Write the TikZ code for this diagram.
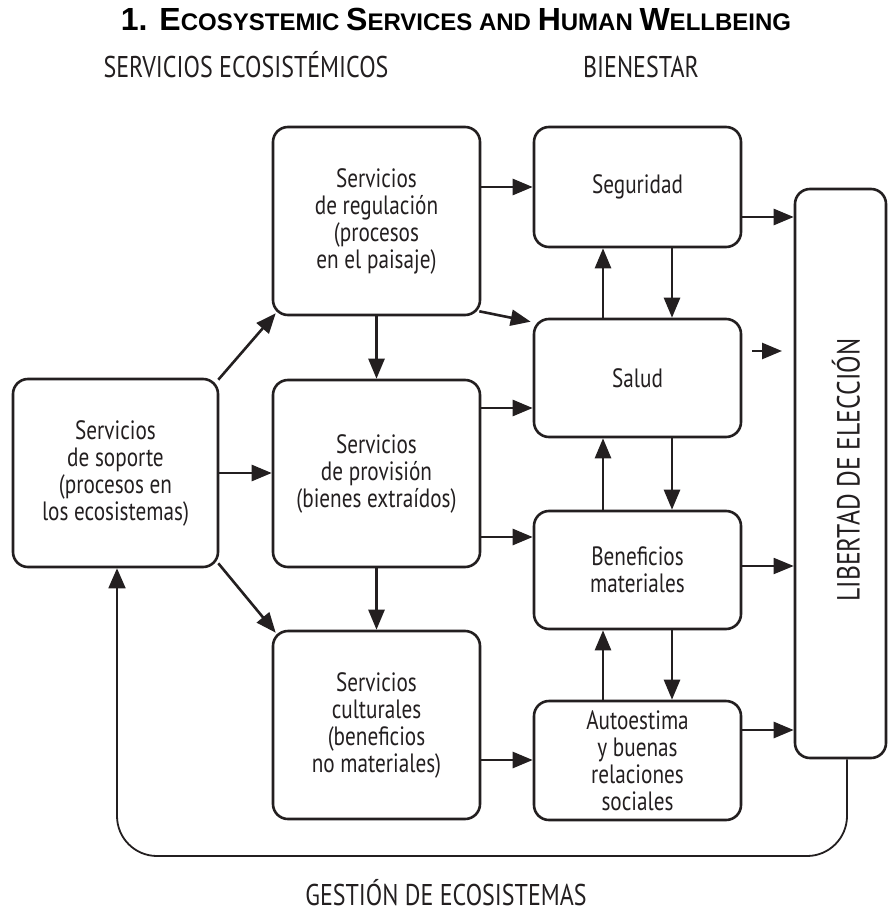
\documentclass[tikz,border=0pt]{standalone}
\usepackage{fontspec}
\usetikzlibrary{arrows.meta}
\newfontfamily\condf[FakeStretch=0.8]{PT Sans}
\newfontfamily\titlef{Liberation Sans}
\newcommand\tbig{\fontsize{32}{36}\selectfont}
\newcommand\tsml{\fontsize{24}{36}\selectfont}
\definecolor{ink}{HTML}{231F20}
\tikzset{
  box/.style={draw=ink, line width=2.6pt, rounded corners=15pt, align=center,
    text=ink, font=\condf\fontsize{26.5}{27}\selectfont, inner sep=0pt},
  arr/.style={draw=ink, line width=2.6pt, -{Triangle[length=20pt,width=16pt]}},
  thinarr/.style={draw=ink, line width=1.8pt, -{Triangle[length=20pt,width=16pt]}},
  fbarr/.style={draw=ink, line width=1.8pt, rounded corners=40pt, -{Triangle[length=20pt,width=17pt]}},
  head/.style={text=ink, font=\condf\fontsize{30}{32}\selectfont, inner sep=0pt},
}
\begin{document}
\begin{tikzpicture}[x=1pt,y=-1pt]
\useasboundingbox[fill=white] (0,0) rectangle (888,917);

% title and headers
\node[anchor=base, inner sep=0pt, font=\titlef\bfseries] (title) at (456,31)
  {\tbig 1. E\tsml COSYSTEMIC \tbig S\tsml ERVICES AND \tbig H\tsml UMAN \tbig W\tsml ELLBEING};
\node[head, anchor=base] (hse) at (246,78) {SERVICIOS ECOSISTÉMICOS};
\node[head, anchor=base] (hbi) at (641,78) {BIENESTAR};
\node[head, anchor=base] (hge) at (446,905) {GESTIÓN DE ECOSISTEMAS};

% boxes
\node[box, minimum width=205pt, minimum height=188pt] (sop) at (115.5,473)
  {Servicios\\de soporte\\(procesos en\\los ecosistemas)};
\node[box, minimum width=207pt, minimum height=188pt] (reg) at (376.5,221)
  {Servicios\\de regulación\\(procesos\\en el paisaje)};
\node[box, minimum width=207pt, minimum height=187pt] (prov) at (376.5,473.5)
  {Servicios\\de provisión\\(bienes extraídos)};
\node[box, minimum width=207pt, minimum height=188pt] (cult) at (376.5,725)
  {Servicios\\culturales\\(beneficios\\no materiales)};
\node[box, minimum width=207pt, minimum height=120pt] (seg) at (637.5,187) {Seguridad};
\node[box, minimum width=207pt, minimum height=118pt] (sal) at (637.5,378) {Salud};
\node[box, minimum width=207pt, minimum height=118pt] (ben) at (637.5,570) {Beneficios\\materiales};
\node[box, minimum width=207pt, minimum height=119pt] (aut) at (637.5,760.5)
  {Autoestima\\y buenas\\relaciones\\sociales};
\node[box, minimum width=91pt, minimum height=569pt] (lib) at (840.5,473.5) {};
\node[head, rotate=90, font=\condf\fontsize{32}{34}\selectfont] (libt) at (846,470) {LIBERTAD DE ELECCIÓN};

% ecosystem services arrows
\draw[arr] ([shift={(-1,2)}]sop.north east) -- ([shift={(4,-3)}]reg.south west);
\draw[arr] (sop.east) -- (sop.east -| prov.west);
\draw[arr] ([shift={(-1,-5)}]sop.south east) -- ([shift={(4,3)}]cult.north west);
\draw[arr] (reg.south) -- (prov.north);
\draw[arr] (prov.south) -- (cult.north);

% services to wellbeing
\draw[arr] (reg.east |- seg.west) -- (seg.west);
\draw[arr] ([shift={(-2,-5)}]reg.south east) -- ([shift={(-2,4)}]sal.north west);
\draw[arr] (prov.east |- 0,408) -- (sal.west |- 0,408);
\draw[arr] (prov.east |- 0,537) -- (ben.west |- 0,537);
\draw[arr] (cult.east |- 0,760) -- (aut.west |- 0,760);

% between wellbeing boxes
\draw[arr] (seg.south -| 672,0) -- (sal.north -| 672,0);
\draw[arr] (sal.north -| 603,0) -- (seg.south -| 603,0);
\draw[arr] (sal.south -| 672,0) -- (ben.north -| 672,0);
\draw[arr] (ben.north -| 603,0) -- (sal.south -| 603,0);
\draw[arr] (ben.south -| 672,0) -- (aut.north -| 672,0);
\draw[arr] (aut.north -| 603,0) -- (ben.south -| 603,0);

% to freedom of choice
\draw[arr] (seg.east |- 0,217) -- (lib.west |- 0,217);
\coordinate (fa) at (752,351);
\coordinate (fb) at (782,351);
\draw[arr] (fa) -- (fb);
\draw[thinarr] (ben.east |- 0,566) -- (lib.west |- 0,566);
\draw[arr] (aut.east |- 0,730) -- (lib.west |- 0,730);

% feedback loop
\coordinate (c1) at (847,856);
\coordinate (c2) at (117,856);
\draw[fbarr] (lib.south -| c1) -- (c1) -- (c2) -- (sop.south -| c2);
\end{tikzpicture}
\end{document}
